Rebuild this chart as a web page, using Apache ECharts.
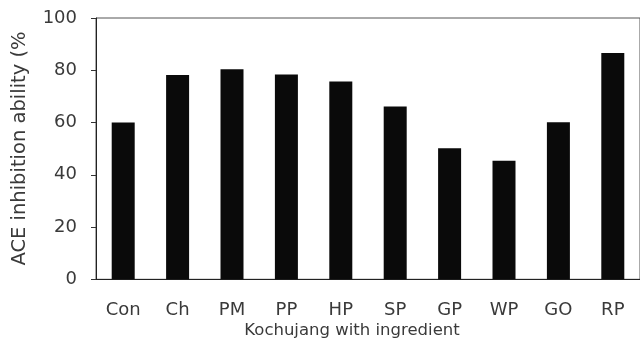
<!DOCTYPE html>
<html>
<head>
<meta charset="utf-8">
<script src="https://cdn.jsdelivr.net/npm/echarts@6/dist/echarts.min.js"></script>
<style>html,body{margin:0;padding:0;background:#fff}#c{width:640px;height:350px}</style>
</head>
<body>
<div id="c"></div>
<script>
var categories = ['Con','Ch','PM','PP','HP','SP','GP','WP','GO','RP'];
var values = [60.0, 78.2, 80.4, 78.4, 75.7, 66.1, 50.2, 45.4, 60.1, 86.6];
var yTicks = [0, 20, 40, 60, 80, 100];
var xTitle = 'Kochujang with ingredient';
var yTitle = 'ACE inhibition ability (%';

var chart = echarts.init(document.getElementById('c'), null, {renderer:'canvas'});
var font = '"DejaVu Sans", sans-serif';
chart.setOption({
  animation: false,
  backgroundColor: '#fff',
  grid: {left: 96, top: 18, right: -4, bottom: 70.7, show: true, borderColor: '#555', borderWidth: 1, backgroundColor: 'transparent'},
  xAxis: {
    type: 'category', data: categories,
    axisLine: {lineStyle: {color: '#222', width: 1}},
    axisTick: {inside: true, length: 4, lineStyle: {color: '#333'}},
    axisLabel: {fontFamily: font, fontSize: 18, color: '#3a3a3a', margin: 22}
  },
  yAxis: {
    type: 'value', min: yTicks[0], max: yTicks[yTicks.length-1], interval: 20,
    axisLine: {show: true, lineStyle: {color: '#222', width: 1}},
    axisTick: {show: true, length: 5, lineStyle: {color: '#333'}},
    splitLine: {show: false},
    axisLabel: {fontFamily: font, fontSize: 18, color: '#3a3a3a', margin: 19}
  },
  graphic: [
    {type: 'text', x: 352, y: 331, style: {text: xTitle, font: '16.5px ' + font, fill: '#3a3a3a', textAlign: 'center', textVerticalAlign: 'middle'}},
    {type: 'text', x: 20, y: 148.5, rotation: Math.PI/2, style: {text: yTitle, font: '19.5px ' + font, fill: '#3a3a3a', textAlign: 'center', textVerticalAlign: 'middle'}}
  ],
  series: [{
    type: 'bar', data: values, barWidth: 23,
    itemStyle: {color: '#0a0a0a'}
  }]
});
</script>
</body>
</html>
